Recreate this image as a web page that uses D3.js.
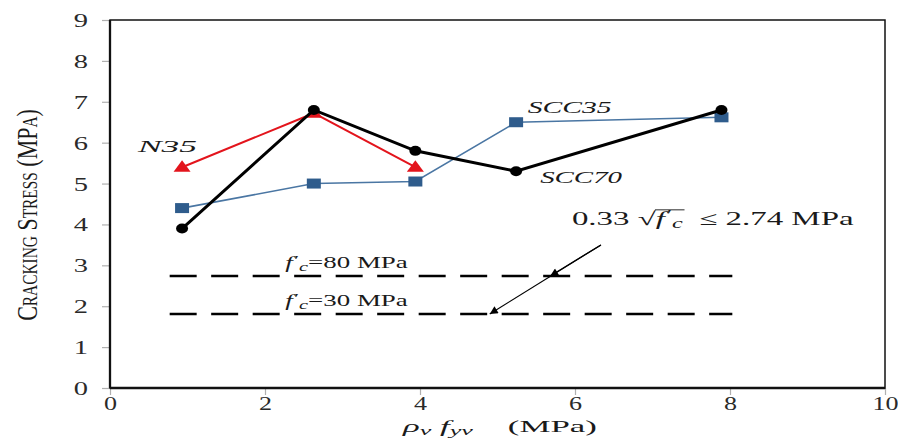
<!DOCTYPE html>
<html><head><meta charset="utf-8">
<script src="https://cdn.jsdelivr.net/npm/d3@7"></script>
<style>body{margin:0;background:#fff} svg{display:block} text{white-space:pre}</style>
</head><body><svg id="c" width="898" height="445"></svg>
<script>
// ---- data ----
const xValues = [0.93, 2.63, 3.94, 5.24, 7.89];
const scc70 = [3.9, 6.8, 5.8, 5.3, 6.8];
const scc35 = [4.4, 5.0, 5.05, 6.5, 6.62];
const n35X = [0.93, 2.63, 3.94];
const n35 = [5.4, 6.72, 5.4];
const limitLevels = [2.74, 1.81];
const limitLabels = ["80", "30"];
const limitRange = [0.77, 8.03];
const xTickValues = [0, 2, 4, 6, 8, 10];
const yTickValues = [0, 1, 2, 3, 4, 5, 6, 7, 8, 9];

const FONT = "'Liberation Serif','Times New Roman',serif";
const svg = d3.select("#c");
const x = d3.scaleLinear([0, 10], [110, 885]);
const y = d3.scaleLinear([0, 9], [388, 20]);

function fitText(parent, px, py, width, size, build, opts = {}) {
  const g = parent.append("g");
  const t = g.append("text").attr("font-family", FONT).attr("font-size", size).attr("fill", opts.fill || "#1a1a1a");
  if (opts.anchor) t.attr("text-anchor", opts.anchor);
  if (opts.variant) t.style("font-variant", opts.variant);
  build(t);
  const w = t.node().getComputedTextLength();
  const s = width / w;
  g.attr("transform", `translate(${px},${py})${opts.rotate ? " rotate(" + opts.rotate + ")" : ""} scale(${s},1)`);
  return { g, t, s };
}

// ---- axes ----
const yAxis = d3.axisLeft(y).tickValues(yTickValues).tickSize(8).tickFormat(d3.format("d"));
const gy = svg.append("g").attr("transform", `translate(${x(0)},0)`).call(yAxis);
gy.select(".domain").remove();
gy.selectAll(".tick line").attr("stroke", "#b0b0b0").attr("stroke-width", 1.2);
gy.selectAll(".tick text").attr("font-family", FONT).attr("font-size", 19).attr("fill", "#2a2a2a")
  .attr("x", -22 / 1.5).attr("dy", "0.34em").attr("transform", "scale(1.5,1)");

const xAxis = d3.axisBottom(x).tickValues(xTickValues).tickSize(7).tickFormat(d3.format("d"));
const gx = svg.append("g").attr("transform", `translate(0,${y(0)})`).call(xAxis);
gx.select(".domain").remove();
gx.selectAll(".tick line").attr("stroke", "#b0b0b0").attr("stroke-width", 1.2);
gx.selectAll(".tick text").attr("font-family", FONT).attr("font-size", 18).attr("fill", "#2a2a2a")
  .attr("y", 22).attr("dy", 0).attr("transform", "scale(1.45,1)");

// frame
svg.append("rect").attr("x", x(0)).attr("y", y(9)).attr("width", x(10) - x(0)).attr("height", y(0) - y(9))
  .attr("fill", "none").attr("stroke", "#111").attr("stroke-width", 1.5);
svg.append("line").attr("x1", x(0)).attr("x2", x(0)).attr("y1", y(9)).attr("y2", y(0)).attr("stroke", "#111").attr("stroke-width", 2.3);
svg.append("line").attr("x1", x(0)).attr("x2", x(10)).attr("y1", y(0)).attr("y2", y(0)).attr("stroke", "#111").attr("stroke-width", 2.3);

// ---- limit dashed lines ----
svg.append("g").selectAll("line").data(limitLevels).join("line")
  .attr("x1", x(limitRange[0])).attr("x2", x(limitRange[1]))
  .attr("y1", d => y(d)).attr("y2", d => y(d))
  .attr("stroke", "#000").attr("stroke-width", 2.6).attr("stroke-dasharray", "27,14.5");

// arrows
const defs = svg.append("defs");
defs.append("marker").attr("id", "ah").attr("viewBox", "0 0 10 10").attr("refX", 10).attr("refY", 5)
  .attr("markerWidth", 12).attr("markerHeight", 8).attr("markerUnits", "userSpaceOnUse").attr("orient", "auto")
  .append("path").attr("d", "M0,0 L10,5 L0,10 z").attr("fill", "#000");
const arrowStart = [6.335, 3.5];
const arrowEnds = [[5.68, 2.74], [4.9, 1.81]];
svg.append("g").selectAll("line").data(arrowEnds).join("line")
  .attr("x1", x(arrowStart[0])).attr("y1", y(arrowStart[1]))
  .attr("x2", d => x(d[0])).attr("y2", d => y(d[1]))
  .attr("stroke", "#000").attr("stroke-width", 1.2).attr("marker-end", "url(#ah)");

// ---- series ----
const line = d3.line().x(d => x(d[0])).y(d => y(d[1]));
const blueData = xValues.map((v, i) => [v, scc35[i]]);
const redData = n35X.map((v, i) => [v, n35[i]]);
const blackData = xValues.map((v, i) => [v, scc70[i]]);

svg.append("path").datum(blueData).attr("d", line).attr("fill", "none").attr("stroke", "#4a76a3").attr("stroke-width", 1.6);
svg.append("g").selectAll("rect").data(blueData).join("rect")
  .attr("x", d => x(d[0]) - 7).attr("y", d => y(d[1]) - 5).attr("width", 14).attr("height", 10)
  .attr("fill", "#2f5c8c");

svg.append("path").datum(redData).attr("d", line).attr("fill", "none").attr("stroke", "#e3141c").attr("stroke-width", 2);
svg.append("g").selectAll("path").data(redData).join("path")
  .attr("transform", d => `translate(${x(d[0])},${y(d[1])})`)
  .attr("d", "M0,-7 L8.5,4.5 L-8.5,4.5 Z").attr("fill", "#e3141c");

svg.append("path").datum(blackData).attr("d", line).attr("fill", "none").attr("stroke", "#000").attr("stroke-width", 3);
svg.append("g").selectAll("ellipse").data(blackData).join("ellipse")
  .attr("cx", d => x(d[0])).attr("cy", d => y(d[1])).attr("rx", 6).attr("ry", 5).attr("fill", "#000");

// ---- labels ----
fitText(svg, x(0.36), y(5.77), 59, 16, t => t.attr("font-style", "italic").text("N35"));
fitText(svg, x(5.39), y(6.72), 84, 17, t => t.attr("font-style", "italic").text("SCC35"));
fitText(svg, x(5.55), y(5.01), 82, 17, t => t.attr("font-style", "italic").text("SCC70"));

limitLevels.forEach((lv, i) => {
  fitText(svg, x(2.26), y(lv) - 8, 121, 16, t => {
    t.append("tspan").attr("font-style", "italic").text("f");
    t.append("tspan").attr("font-size", 13).attr("dy", -4).attr("dx", 1).text("′");
    t.append("tspan").attr("font-style", "italic").attr("font-size", 12).attr("dy", 7).text("c");
    t.append("tspan").attr("dy", -3).text("=" + limitLabels[i] + " MPa");
  });
});

// formula annotation
{
  const r = fitText(svg, x(5.96), y(3.99), 280, 19, t => {
    t.append("tspan").text("0.33 ");
    t.append("tspan").text("√");
    t.append("tspan").attr("font-style", "italic").text("f");
    t.append("tspan").attr("font-size", 14).attr("dy", -5).attr("dx", 1).text("′");
    t.append("tspan").attr("font-style", "italic").attr("font-size", 14).attr("dy", 8).text("c");
    t.append("tspan").attr("dy", -3).text("  ≤ 2.74 MPa");
  });
  const n = r.t.node();
  const txt = n.textContent;
  const i0 = txt.indexOf("√");
  const i1 = txt.indexOf("c");
  const sx = n.getEndPositionOfChar(i0).x;
  const ex = n.getEndPositionOfChar(i1).x + 1;
  r.g.append("line").attr("x1", sx - 0.5).attr("x2", ex).attr("y1", -15).attr("y2", -15)
    .attr("stroke", "#111").attr("stroke-width", 0.9);
}

// x axis label
fitText(svg, 403, 432, 194, 16, t => {
  t.append("tspan").attr("font-style", "italic").text("ρ");
  t.append("tspan").attr("font-style", "italic").attr("font-size", 12).attr("dy", 3).text("v");
  t.append("tspan").attr("dy", -3).text(" ");
  t.append("tspan").attr("font-style", "italic").text("f");
  t.append("tspan").attr("font-style", "italic").attr("font-size", 12).attr("dy", 3).text("yv");
  t.append("tspan").attr("dy", -3).text("    (MPa)");
});

// y axis label
fitText(svg, 37, 215, 210, 29, t => t.text("Cracking Stress (MPa)"), { anchor: "middle", rotate: -90, variant: "small-caps" });
</script></body></html>
